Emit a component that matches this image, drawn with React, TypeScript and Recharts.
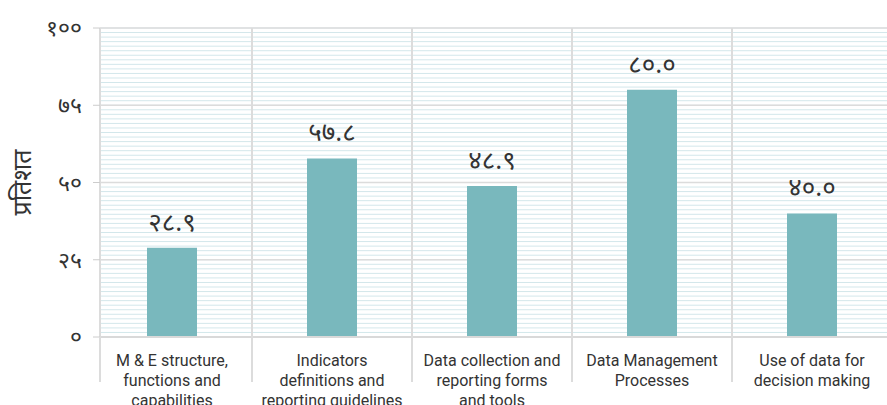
import { BarChart, Bar, XAxis, YAxis, CartesianGrid, LabelList } from "recharts";

const CATEGORIES = [
  ["M & E structure,", "functions and", "capabilities"],
  ["Indicators", "definitions and", "reporting guidelines"],
  ["Data collection and", "reporting forms", "and tools"],
  ["Data Management", "Processes"],
  ["Use of data for", "decision making"],
];
const VALUES = [28.9, 57.8, 48.9, 80.0, 40.0];
const Y_TICKS = [0, 25, 50, 75, 100];
// fine background ruling, 17 lines per 25 units
const FINE_TICKS = Array.from({ length: 69 }, (_, i) => (i * 100) / 68);

const DIGITS = "०१२३४५६७८९";
const deva = (v: number | string) => String(v).replace(/[0-9]/g, (d) => DIGITS[+d]);

const data = CATEGORIES.map((lines, i) => ({ name: lines.join("\n"), value: VALUES[i] }));

const TEXT = "#333333";
const GRID = "#dcdcdc";
const DEVA_FONT = "'Noto Sans', 'DejaVu Sans', sans-serif";
const TOP = 28;
const Y_AXIS_W = 100;
const PAD = { left: -8, right: -5 };

function CategoryTick({ x, y, payload, index }: any) {
  const lines = String(payload.value).split("\n");
  // band boundary left of each category, from the top of the plot down under the axis
  const sx = x - (payload.offset ?? 80);
  return (
    <g>
      {index > 0 ? (
        <line x1={sx} x2={sx} y1={TOP} y2={y + 45} stroke={GRID} strokeWidth={2} />
      ) : (
        <line x1={Y_AXIS_W} x2={Y_AXIS_W} y1={y} y2={y + 45} stroke={GRID} strokeWidth={2} />
      )}
      <text x={x} y={y} textAnchor="middle" fill={TEXT} fontSize={16} fontFamily="Roboto, sans-serif">
        {lines.map((l, i) => (
          <tspan key={i} x={x} dy={i === 0 ? 29 : 20}>
            {l}
          </tspan>
        ))}
      </text>
    </g>
  );
}

export default function App() {
  return (
    <div>
      <style>{"body{margin:0;background:#fff}"}</style>
      <BarChart width={887} height={405} data={data} margin={{ top: TOP, right: 0, bottom: 0, left: 0 }}>
        <CartesianGrid
          vertical={false}
          stroke="#d3e7eb"
          horizontalCoordinatesGenerator={({ offset }: any) =>
            FINE_TICKS.map((t) => offset.top + offset.height * (1 - t / 100))
          }
        />
        <CartesianGrid stroke={GRID} strokeWidth={1.5} vertical={false} />
        <XAxis
          dataKey="name"
          padding={PAD}
          height={68}
          interval={0}
          tickSize={0}
          tickMargin={0}
          tickLine={false}
          axisLine={{ stroke: "#d9d9d9", strokeWidth: 2 }}
          tick={<CategoryTick />}
        />
        <YAxis
          domain={[0, 100]}
          ticks={Y_TICKS}
          width={Y_AXIS_W}
          tickSize={7}
          tickMargin={11}
          tickFormatter={deva}
          tick={{ fill: TEXT, fontSize: 23, fontFamily: DEVA_FONT }}
          tickLine={{ stroke: "#cccccc" }}
          axisLine={{ stroke: GRID, strokeWidth: 2 }}
          label={{
            content: ({ viewBox }: any) => (
              <text
                x={21}
                y={viewBox.y + viewBox.height / 2}
                transform={`rotate(-90, 21, ${viewBox.y + viewBox.height / 2})`}
                textAnchor="middle"
                dominantBaseline="central"
                fill={TEXT}
                fontSize={25}
                fontFamily={DEVA_FONT}
              >
                प्रतिशत
              </text>
            ),
          }}
        />
        <Bar dataKey="value" fill="#79b8bd" barSize={50} isAnimationActive={false}>
          <LabelList
            dataKey="value"
            position="top"
            offset={17}
            formatter={(v: any) => deva(Number(v).toFixed(1))}
            fill={TEXT}
            fontSize={26}
            fontFamily={DEVA_FONT}
          />
        </Bar>
      </BarChart>
    </div>
  );
}
